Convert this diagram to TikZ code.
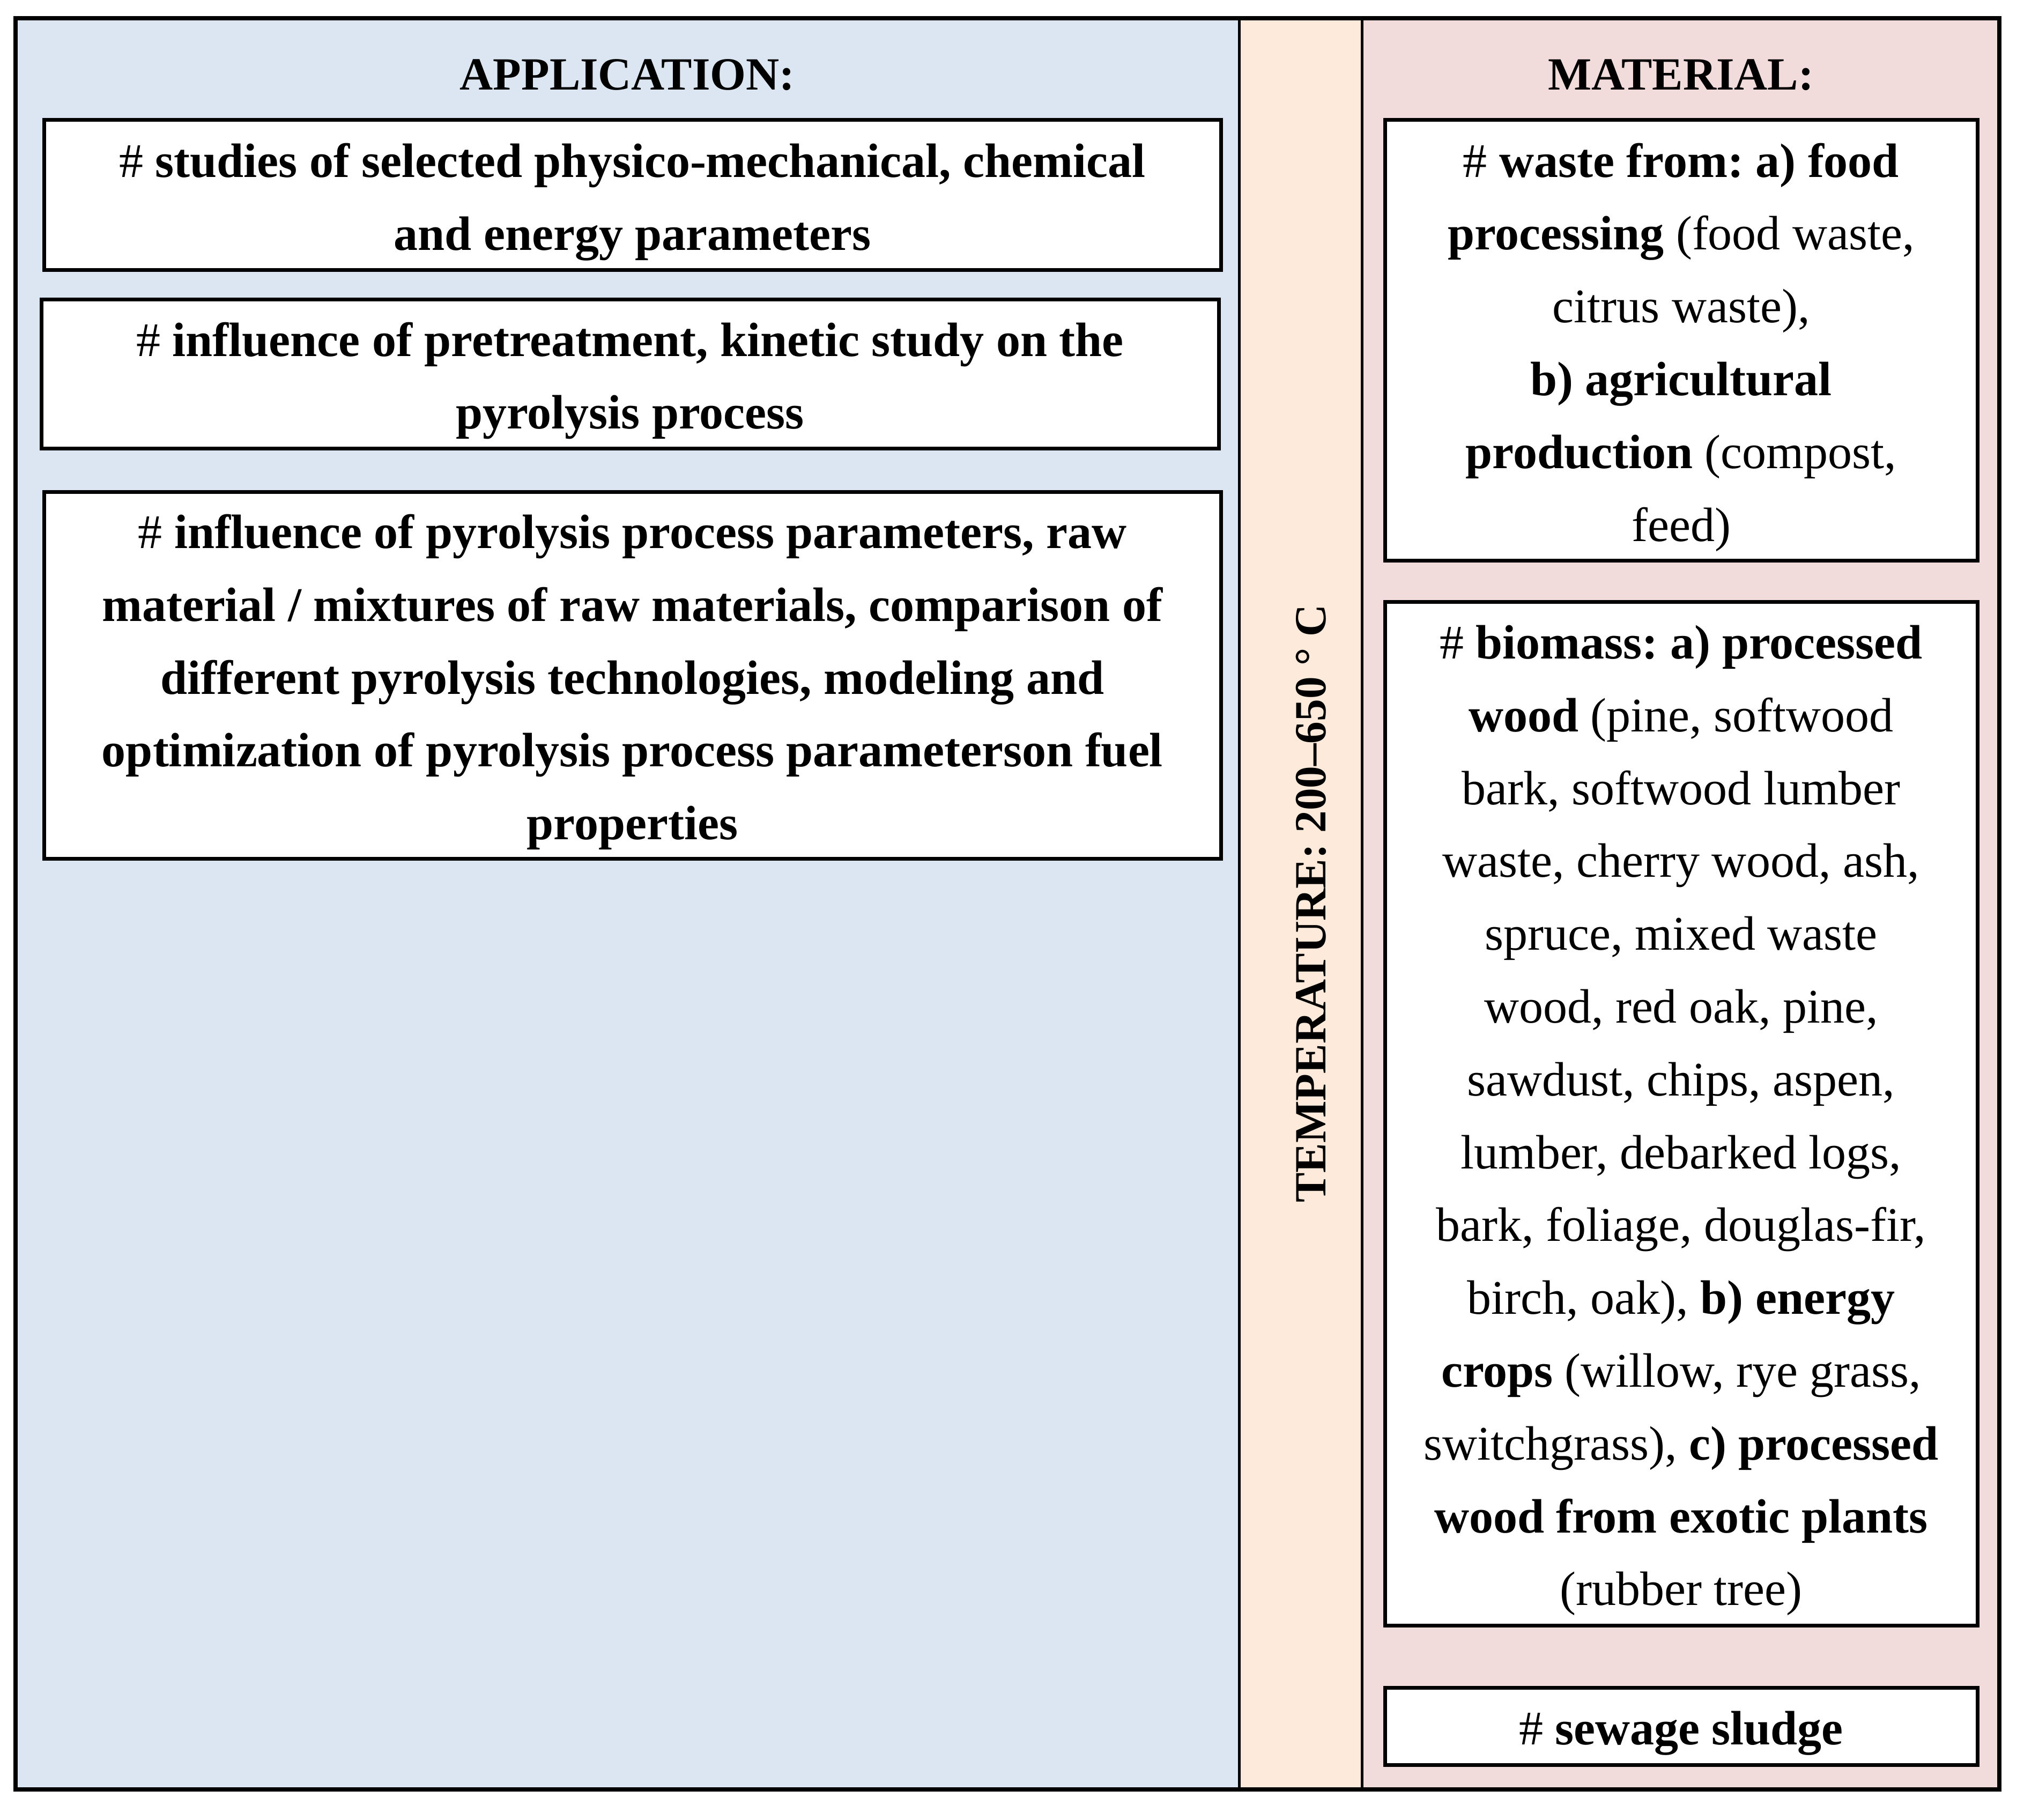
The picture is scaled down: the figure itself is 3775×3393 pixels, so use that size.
\documentclass[tikz,border=0pt]{standalone}
\usepackage{fontspec}
\setmainfont{Liberation Serif}
\frenchspacing
\definecolor{appbg}{RGB}{220,230,242}
\definecolor{tempbg}{RGB}{253,234,218}
\definecolor{matbg}{RGB}{242,220,219}
\tikzset{
  txt/.style={font=\fontsize{22.5}{33.95}\selectfont, align=center, inner sep=0pt, yshift=-3.25pt},
  ttl/.style={font=\fontsize{21.5}{33.95}\selectfont\bfseries, align=center, inner sep=0pt},
  itembox/.style={draw=black, line width=1.75pt, fill=white, inner sep=0pt},
  panel/.style={inner sep=0pt, outer sep=0pt},
  divider/.style={line width=1.25pt},
  frame/.style={line width=2pt}
}
\begin{document}
\frenchspacing
\begin{tikzpicture}[x=0.25pt,y=-0.25pt]
\useasboundingbox (0,0) rectangle (3775,3393);
% panels
\node[panel, fill=appbg, minimum width=570.5pt, minimum height=825.75pt] (app) at (1170,1685.5) {};
\node[panel, fill=tempbg, minimum width=57.25pt, minimum height=825.75pt] (temp) at (2425.5,1685.5) {};
\node[panel, fill=matbg, minimum width=297.25pt, minimum height=825.75pt] (mat) at (3134.5,1685.5) {};
\draw[divider] (temp.north west) -- (temp.south west);
\draw[divider] (temp.north east) -- (temp.south east);
\draw[frame] (app.north west) rectangle (mat.south east);
% titles
\node[ttl] (apptitle) at (1170,140) {APPLICATION:};
\node[ttl] (mattitle) at (3135,140) {MATERIAL:};
\node[ttl, font=\fontsize{20.8}{30}\selectfont\bfseries, rotate=90] (temptitle) at (2445,1685) {TEMPERATURE: 200–650 ° C};
% application boxes
\node[itembox, minimum width=548.75pt, minimum height=69.75pt] (a1) at (1179.5,363.5) {};
\node[txt] (a1t) at (a1.center)
  {\# \textbf{studies of selected physico-mechanical, chemical}\\\textbf{and energy parameters}};
\node[itembox, minimum width=549pt, minimum height=69.5pt] (a2) at (1175,697) {};
\node[txt] (a2t) at (a2.center)
  {\# \textbf{influence of pretreatment, kinetic study on the}\\\textbf{pyrolysis process}};
\node[itembox, minimum width=548.75pt, minimum height=171pt] (a3) at (1179.5,1259) {};
\node[txt] (a3t) at (a3.center)
  {\# \textbf{influence of pyrolysis process parameters, raw}\\
   \textbf{material / mixtures of raw materials, comparison of}\\
   \textbf{different pyrolysis technologies, modeling and}\\
   \textbf{optimization of pyrolysis process parameterson fuel}\\
   \textbf{properties}};
% material boxes
\node[itembox, minimum width=276.25pt, minimum height=205.25pt] (m1) at (3135.5,634.5) {};
\node[txt] (m1t) at (m1.center)
  {\# \textbf{waste from: a) food}\\
   \textbf{processing} (food waste,\\
   citrus waste),\\
   \textbf{b) agricultural}\\
   \textbf{production} (compost,\\
   feed)};
\node[itembox, minimum width=276.25pt, minimum height=477.25pt] (m2) at (3135.5,2076.5) {};
\node[txt] (m2t) at (m2.center)
  {\# \textbf{biomass: a) processed}\\
   \textbf{wood} (pine, softwood\\
   bark, softwood lumber\\
   waste, cherry wood, ash,\\
   spruce, mixed waste\\
   wood, red oak, pine,\\
   sawdust, chips, aspen,\\
   lumber, debarked logs,\\
   bark, foliage, douglas-fir,\\
   birch, oak), \textbf{b) energy}\\
   \textbf{crops} (willow, rye grass,\\
   switchgrass), \textbf{c) processed}\\
   \textbf{wood from exotic plants}\\
   (rubber tree)};
\node[itembox, minimum width=276.25pt, minimum height=36pt] (m3) at (3135.5,3219) {};
\node[txt] (m3t) at (m3.center) {\# \textbf{sewage sludge}};
\end{tikzpicture}
\end{document}
